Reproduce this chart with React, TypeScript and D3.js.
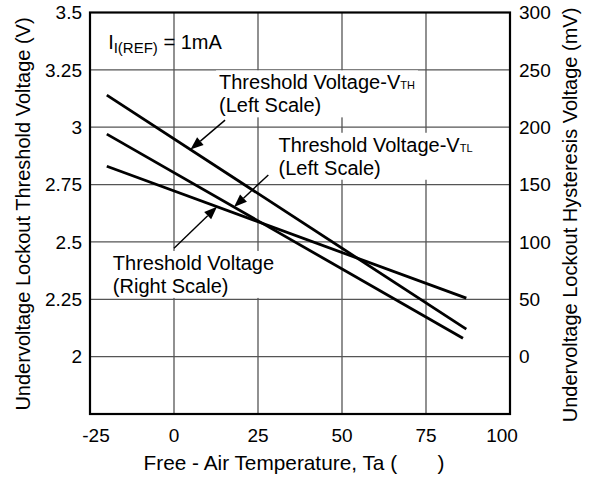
import React, { useEffect, useRef } from 'react';
import * as d3 from 'd3';

// ---- data ----
const vthTemps = [-20, 87];
const vthValues = [3.14, 2.12];
const vtlTemps = [-20, 86];
const vtlValues = [2.97, 2.08];
const hystTemps = [-20, 87];
const hystValues = [166, 51];

const xTicks = [-25, 0, 25, 50, 75, 100];
const xGridTicks = [0, 25, 50, 75];
const leftTicks = [2, 2.25, 2.5, 2.75, 3, 3.25, 3.5];
const leftTickLabels = ['2', '2.25', '2.5', '2.75', '3', '3.25', '3.5'];
const yGridTicks = [2, 2.25, 2.5, 2.75, 3, 3.25];
const rightTicks = [0, 50, 100, 150, 200, 250, 300];

const xTitle = 'Free - Air Temperature, Ta (\u00A0\u00A0\u00A0\u00A0\u00A0\u00A0\u00A0)';
const leftTitle = 'Undervoltage Lockout Threshold Voltage (V)';
const rightTitle = 'Undervoltage Lockout Hysteresis Voltage (mV)';

const W = 589;
const H = 479;
const FONT = '"Liberation Sans", Arial, Helvetica, sans-serif';

export default function App() {
  const ref = useRef<SVGSVGElement | null>(null);

  useEffect(() => {
    const svg = d3.select(ref.current);
    svg.selectAll('*').remove();

    const x = d3.scaleLinear().domain([-25, 100]).range([90, 510]);
    const yL = d3.scaleLinear().domain([1.75, 3.5]).range([414, 12.5]);
    const yR = d3.scaleLinear().domain([-50, 300]).range([414, 12.5]);

    const g = svg.append('g').attr('font-family', FONT);

    // grid
    g.selectAll('line.vg').data(xGridTicks).join('line')
      .attr('x1', (d) => x(d)).attr('x2', (d) => x(d))
      .attr('y1', yL(3.5)).attr('y2', yL(1.75))
      .attr('stroke', '#555').attr('stroke-width', 1.3);
    g.selectAll('line.hg').data(yGridTicks).join('line')
      .attr('x1', x(-25)).attr('x2', x(100))
      .attr('y1', (d) => yL(d)).attr('y2', (d) => yL(d))
      .attr('stroke', '#555').attr('stroke-width', 1.3);

    // annotations (text with white boxes)
    const labelGroup = (parts: { lines: { main: string; sub?: string }[]; t: number; v: number }) => {
      const lg = g.append('g');
      const rect = lg.append('rect').attr('fill', '#fff');
      parts.lines.forEach((ln, i) => {
        const t = lg.append('text')
          .attr('x', x(parts.t)).attr('y', yL(parts.v) + i * 23)
          .attr('font-size', 20).attr('fill', '#000');
        t.append('tspan').text(ln.main);
        if (ln.sub) t.append('tspan').attr('font-size', 11).text(ln.sub);
      });
      const bb = (lg.node() as SVGGElement).getBBox();
      rect.attr('x', bb.x - 3).attr('y', bb.y - 1).attr('width', bb.width + 6).attr('height', bb.height + 2);
    };

    labelGroup({ lines: [{ main: 'Threshold Voltage-V', sub: 'TH' }, { main: '(Left Scale)' }], t: 13.4, v: 3.165 });
    labelGroup({ lines: [{ main: 'Threshold Voltage-V', sub: 'TL' }, { main: '(Left Scale)' }], t: 31.1, v: 2.893 });
    labelGroup({ lines: [{ main: 'Threshold Voltage' }, { main: '(Right Scale)' }], t: -18.2, v: 2.378 });

    // I(REF)
    const iref = g.append('text').attr('x', x(-19.6)).attr('y', yL(3.339)).attr('font-size', 20).attr('fill', '#000');
    iref.append('tspan').text('I');
    iref.append('tspan').attr('font-size', 15).attr('dy', 4).text('I(REF)');
    iref.append('tspan').attr('dy', -4).text(' = 1mA');

    // series lines
    const lineL = d3.line<[number, number]>().x((d) => x(d[0])).y((d) => yL(d[1]));
    const lineR = d3.line<[number, number]>().x((d) => x(d[0])).y((d) => yR(d[1]));
    const vth = vthTemps.map((t, i) => [t, vthValues[i]] as [number, number]);
    const vtl = vtlTemps.map((t, i) => [t, vtlValues[i]] as [number, number]);
    const hyst = hystTemps.map((t, i) => [t, hystValues[i]] as [number, number]);
    [lineL(vth), lineL(vtl), lineR(hyst)].forEach((p) => {
      g.append('path').attr('d', p).attr('fill', 'none').attr('stroke', '#000').attr('stroke-width', 2.8);
    });

    // arrows
    const interp = (temps: number[], vals: number[], t: number) => {
      const f = (t - temps[0]) / (temps[1] - temps[0]);
      return vals[0] + f * (vals[1] - vals[0]);
    };
    const arrow = (x0: number, y0: number, x1: number, y1: number) => {
      const dx = x1 - x0, dy = y1 - y0;
      const len = Math.hypot(dx, dy);
      const ux = dx / len, uy = dy / len;
      const hl = 13, hw = 5;
      const bx = x1 - ux * hl, by = y1 - uy * hl;
      g.append('line').attr('x1', x0).attr('y1', y0).attr('x2', bx).attr('y2', by)
        .attr('stroke', '#000').attr('stroke-width', 1.4);
      g.append('path')
        .attr('d', `M${x1},${y1}L${bx - uy * hw},${by + ux * hw}L${bx + uy * hw},${by - ux * hw}Z`)
        .attr('fill', '#000');
    };
    arrow(x(15.2), yL(3.031), x(4.9), yL(interp(vthTemps, vthValues, 4.9)));
    arrow(x(28.07), yL(2.792), x(17.86), yL(interp(vtlTemps, vtlValues, 17.86)));
    arrow(x(0), yL(2.472), x(12.8), yR(interp(hystTemps, hystValues, 12.8)));

    // frame
    g.append('rect').attr('x', x(-25)).attr('y', yL(3.5))
      .attr('width', x(100) - x(-25)).attr('height', yL(1.75) - yL(3.5))
      .attr('fill', 'none').attr('stroke', '#000').attr('stroke-width', 2.2);

    // tick labels
    g.selectAll('text.lt').data(leftTicks).join('text')
      .attr('x', 82).attr('y', (d) => yL(d) + 6.8)
      .attr('text-anchor', 'end').attr('font-size', 19).attr('fill', '#000')
      .text((d, i) => leftTickLabels[i]);
    g.selectAll('text.rt').data(rightTicks).join('text')
      .attr('x', 519).attr('y', (d) => yR(d) + 6.8)
      .attr('text-anchor', 'start').attr('font-size', 19).attr('fill', '#000')
      .text((d) => String(d));
    g.selectAll('text.bt').data(xTicks).join('text')
      .attr('x', (d, i) => x(d) + (i === 0 ? 6 : i === xTicks.length - 1 ? -8 : 0))
      .attr('y', 441.5)
      .attr('text-anchor', 'middle').attr('font-size', 19).attr('fill', '#000')
      .text((d) => String(d));

    // titles
    g.append('text').attr('x', 294).attr('y', 470).attr('text-anchor', 'middle')
      .attr('font-size', 20.8).attr('fill', '#000').text(xTitle);
    g.append('text').attr('transform', `translate(30,214) rotate(-90)`).attr('text-anchor', 'middle')
      .attr('font-size', 20).attr('fill', '#000').text(leftTitle);
    g.append('text').attr('transform', `translate(577,215) rotate(-90)`).attr('text-anchor', 'middle')
      .attr('font-size', 20).attr('fill', '#000').text(rightTitle);
  }, []);

  return (
    <svg
      ref={ref}
      width={W}
      height={H}
      viewBox={`0 0 ${W} ${H}`}
      style={{ position: 'absolute', left: 0, top: 0, background: '#fff' }}
    />
  );
}
